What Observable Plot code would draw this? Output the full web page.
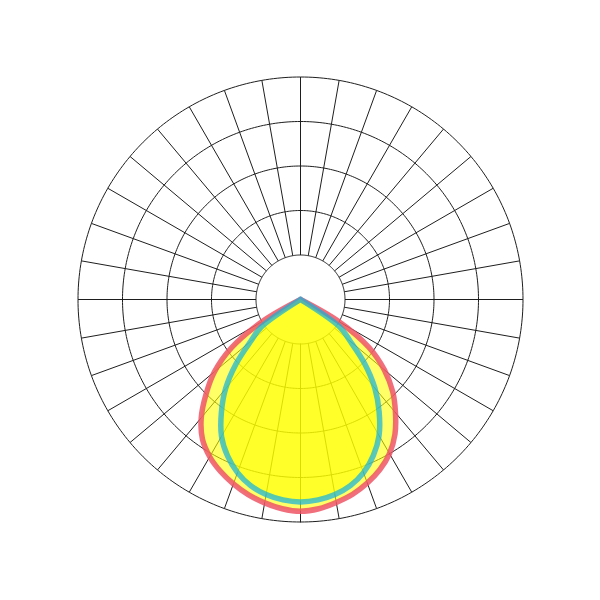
<!DOCTYPE html>
<html>
<head>
<meta charset="utf-8">
<script src="https://cdn.jsdelivr.net/npm/d3@7"></script>
<script src="https://cdn.jsdelivr.net/npm/@observablehq/plot@0.6"></script>
<style>html,body{margin:0;padding:0;background:#fff}</style>
</head>
<body>
<div id="chart"></div>
<script>
// Polar angles from nadir (degrees)
const gamma = [0, 5, 10, 15, 20, 25, 30, 35, 40, 45, 50, 55, 60, 65];
// Red curve (outer): left half-plane and right half-plane
const redLeft  = [4.76, 4.72, 4.64, 4.54, 4.41, 4.26, 4.08, 3.84, 3.47, 3.00, 2.52, 1.90, 1.00, 0];
const redRight = [4.76, 4.72, 4.63, 4.53, 4.39, 4.22, 4.00, 3.70, 3.32, 2.93, 2.46, 1.88, 1.00, 0];
// Blue curve (inner)
const blueLeft  = [4.55, 4.52, 4.45, 4.33, 4.14, 3.88, 3.55, 3.10, 2.62, 2.05, 1.46, 1.07, 0, 0];
const blueRight = [4.55, 4.52, 4.45, 4.33, 4.14, 3.87, 3.53, 3.08, 2.60, 2.04, 1.46, 1.07, 0, 0];
// Grid
const rings = [1, 2, 3, 4, 5];
const spokes = d3.range(0, 360, 10);

const rad = Math.PI / 180;
const px = d => d.r * Math.sin(d.a * rad);
const py = d => -d.r * Math.cos(d.a * rad);

const toRows = (left, right) => [
  ...gamma.map((g, i) => ({a: -g, r: left[i]})).reverse(),
  ...gamma.slice(1).map((g, i) => ({a: g, r: right[i + 1]}))
];
const redRows = toRows(redLeft, redRight);
const blueRows = toRows(blueLeft, blueRight);

const ringRows = rings.flatMap(r => d3.range(0, 361, 1).map(a => ({r, a})));
const rMin = d3.min(rings), rMax = d3.max(rings);

const chart = Plot.plot({
  width: 600,
  height: 600,
  marginLeft: 77.5,
  marginRight: 77.5,
  marginTop: 76.5,
  marginBottom: 78.5,
  x: {domain: [-rMax, rMax], axis: null},
  y: {domain: [-rMax, rMax], axis: null},
  marks: [
    Plot.line(ringRows, {x: px, y: py, z: "r", stroke: "#1e1e1e", strokeWidth: 1}),
    Plot.link(spokes, {
      x1: a => rMin * Math.sin(a * rad), y1: a => rMin * Math.cos(a * rad),
      x2: a => rMax * Math.sin(a * rad), y2: a => rMax * Math.cos(a * rad),
      stroke: "#1e1e1e", strokeWidth: 1
    }),
    Plot.area(redRows, {x1: px, y1: py, x2: 0, y2: 0, fill: "yellow", fillOpacity: 0.6, curve: "catmull-rom"}),
    Plot.line(redRows, {x: px, y: py, stroke: "#ee5566", strokeOpacity: 0.85, strokeWidth: 5.5,
      curve: "catmull-rom-closed", strokeLinejoin: "miter", strokeMiterlimit: 10}),
    Plot.area(blueRows, {x1: px, y1: py, x2: 0, y2: 0, fill: "yellow", fillOpacity: 0.6, curve: "catmull-rom"}),
    Plot.line(blueRows, {x: px, y: py, stroke: "#10b0e0", strokeOpacity: 0.7, strokeWidth: 5.5,
      curve: "catmull-rom-closed", strokeLinejoin: "miter", strokeMiterlimit: 10})
  ]
});
document.getElementById("chart").append(chart);
</script>
</body>
</html>
